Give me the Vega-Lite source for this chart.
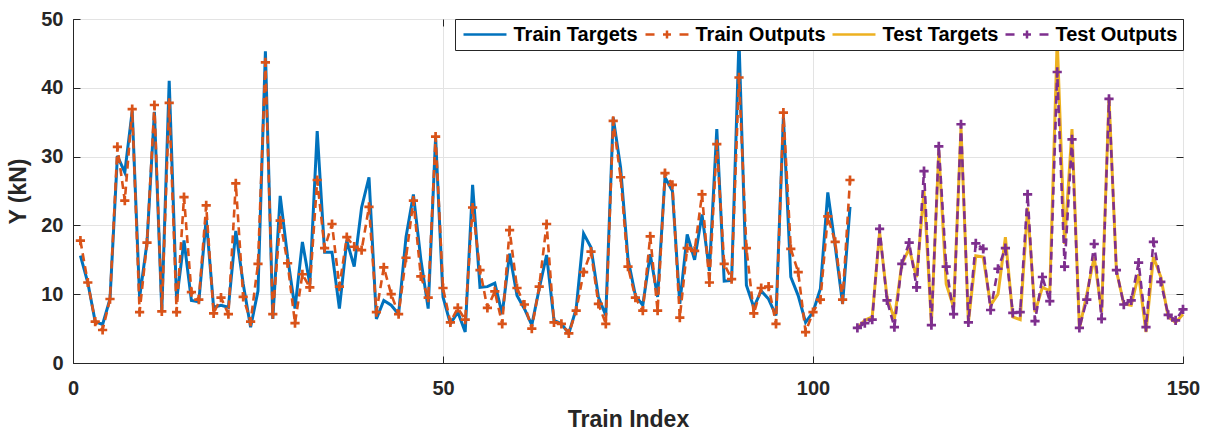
{
  "$schema": "https://vega.github.io/schema/vega-lite/v6.json",
  "width": 1110,
  "height": 344,
  "autosize": {"type": "none"},
  "padding": {"left": 73, "top": 19, "right": 28, "bottom": 67},
  "background": "white",
  "config": {
    "font": "Liberation Sans",
    "view": {"stroke": "#262626", "strokeWidth": 1},
    "axis": {
      "labelFont": "Liberation Sans",
      "labelFontWeight": "bold",
      "labelFontSize": 20,
      "labelColor": "#262626",
      "titleFont": "Liberation Sans",
      "titleFontWeight": "bold",
      "titleFontSize": 23,
      "titleColor": "#262626",
      "domainColor": "#262626",
      "tickColor": "#262626",
      "gridColor": "#e3e3e3",
      "gridWidth": 1
    }
  },
  "data": {
    "values": [
      {"i":1,"Train Targets":15.6,"Train Outputs":17.8},
      {"i":2,"Train Targets":11.7,"Train Outputs":11.7},
      {"i":3,"Train Targets":6.0,"Train Outputs":6.0},
      {"i":4,"Train Targets":5.6,"Train Outputs":4.8},
      {"i":5,"Train Targets":9.3,"Train Outputs":9.3},
      {"i":6,"Train Targets":30.1,"Train Outputs":31.4},
      {"i":7,"Train Targets":27.7,"Train Outputs":23.6},
      {"i":8,"Train Targets":36.6,"Train Outputs":36.9},
      {"i":9,"Train Targets":9.5,"Train Outputs":7.4},
      {"i":10,"Train Targets":17.5,"Train Outputs":17.5},
      {"i":11,"Train Targets":36.5,"Train Outputs":37.5},
      {"i":12,"Train Targets":7.5,"Train Outputs":7.5},
      {"i":13,"Train Targets":41.0,"Train Outputs":37.8},
      {"i":14,"Train Targets":9.1,"Train Outputs":7.4},
      {"i":15,"Train Targets":17.8,"Train Outputs":24.1},
      {"i":16,"Train Targets":9.1,"Train Outputs":10.3},
      {"i":17,"Train Targets":8.9,"Train Outputs":9.2},
      {"i":18,"Train Targets":21.0,"Train Outputs":22.9},
      {"i":19,"Train Targets":8.1,"Train Outputs":7.2},
      {"i":20,"Train Targets":8.4,"Train Outputs":9.5},
      {"i":21,"Train Targets":8.1,"Train Outputs":7.1},
      {"i":22,"Train Targets":19.2,"Train Outputs":26.1},
      {"i":23,"Train Targets":11.5,"Train Outputs":9.6},
      {"i":24,"Train Targets":5.2,"Train Outputs":6.0},
      {"i":25,"Train Targets":10.5,"Train Outputs":14.4},
      {"i":26,"Train Targets":45.3,"Train Outputs":43.7},
      {"i":27,"Train Targets":6.4,"Train Outputs":7.1},
      {"i":28,"Train Targets":24.3,"Train Outputs":20.7},
      {"i":29,"Train Targets":15.4,"Train Outputs":14.5},
      {"i":30,"Train Targets":7.9,"Train Outputs":5.8},
      {"i":31,"Train Targets":17.6,"Train Outputs":12.9},
      {"i":32,"Train Targets":11.5,"Train Outputs":11.0},
      {"i":33,"Train Targets":33.7,"Train Outputs":26.6},
      {"i":34,"Train Targets":16.1,"Train Outputs":16.7},
      {"i":35,"Train Targets":16.1,"Train Outputs":20.2},
      {"i":36,"Train Targets":7.9,"Train Outputs":11.1},
      {"i":37,"Train Targets":17.8,"Train Outputs":18.3},
      {"i":38,"Train Targets":14.0,"Train Outputs":16.9},
      {"i":39,"Train Targets":22.6,"Train Outputs":16.4},
      {"i":40,"Train Targets":27.0,"Train Outputs":22.7},
      {"i":41,"Train Targets":6.4,"Train Outputs":7.4},
      {"i":42,"Train Targets":9.1,"Train Outputs":13.9},
      {"i":43,"Train Targets":8.4,"Train Outputs":10.0},
      {"i":44,"Train Targets":7.1,"Train Outputs":7.1},
      {"i":45,"Train Targets":18.3,"Train Outputs":15.3},
      {"i":46,"Train Targets":24.5,"Train Outputs":23.6},
      {"i":47,"Train Targets":15.1,"Train Outputs":12.6},
      {"i":48,"Train Targets":7.9,"Train Outputs":9.5},
      {"i":49,"Train Targets":32.8,"Train Outputs":32.9},
      {"i":50,"Train Targets":9.6,"Train Outputs":10.9},
      {"i":51,"Train Targets":5.7,"Train Outputs":5.9},
      {"i":52,"Train Targets":7.4,"Train Outputs":8.0},
      {"i":53,"Train Targets":4.5,"Train Outputs":6.3},
      {"i":54,"Train Targets":25.9,"Train Outputs":22.6},
      {"i":55,"Train Targets":11.0,"Train Outputs":13.5},
      {"i":56,"Train Targets":11.1,"Train Outputs":8.0},
      {"i":57,"Train Targets":11.6,"Train Outputs":10.4},
      {"i":58,"Train Targets":7.1,"Train Outputs":5.7},
      {"i":59,"Train Targets":15.9,"Train Outputs":19.3},
      {"i":60,"Train Targets":9.8,"Train Outputs":10.9},
      {"i":61,"Train Targets":7.9,"Train Outputs":8.5},
      {"i":62,"Train Targets":5.5,"Train Outputs":5.0},
      {"i":63,"Train Targets":10.8,"Train Outputs":11.1},
      {"i":64,"Train Targets":15.7,"Train Outputs":20.2},
      {"i":65,"Train Targets":6.2,"Train Outputs":5.9},
      {"i":66,"Train Targets":5.7,"Train Outputs":5.7},
      {"i":67,"Train Targets":4.3,"Train Outputs":4.3},
      {"i":68,"Train Targets":7.9,"Train Outputs":7.6},
      {"i":69,"Train Targets":18.8,"Train Outputs":13.2},
      {"i":70,"Train Targets":16.8,"Train Outputs":16.2},
      {"i":71,"Train Targets":9.6,"Train Outputs":8.6},
      {"i":72,"Train Targets":6.9,"Train Outputs":5.7},
      {"i":73,"Train Targets":35.7,"Train Outputs":35.2},
      {"i":74,"Train Targets":28.4,"Train Outputs":27.0},
      {"i":75,"Train Targets":15.1,"Train Outputs":14.0},
      {"i":76,"Train Targets":9.8,"Train Outputs":9.5},
      {"i":77,"Train Targets":8.4,"Train Outputs":7.6},
      {"i":78,"Train Targets":15.8,"Train Outputs":18.4},
      {"i":79,"Train Targets":9.6,"Train Outputs":7.6},
      {"i":80,"Train Targets":27.0,"Train Outputs":27.6},
      {"i":81,"Train Targets":25.0,"Train Outputs":25.9},
      {"i":82,"Train Targets":8.6,"Train Outputs":6.6},
      {"i":83,"Train Targets":18.7,"Train Outputs":16.7},
      {"i":84,"Train Targets":15.0,"Train Outputs":16.3},
      {"i":85,"Train Targets":21.6,"Train Outputs":24.5},
      {"i":86,"Train Targets":13.4,"Train Outputs":11.7},
      {"i":87,"Train Targets":34.0,"Train Outputs":31.8},
      {"i":88,"Train Targets":11.9,"Train Outputs":14.4},
      {"i":89,"Train Targets":12.0,"Train Outputs":12.2},
      {"i":90,"Train Targets":47.0,"Train Outputs":41.5},
      {"i":91,"Train Targets":11.3,"Train Outputs":16.7},
      {"i":92,"Train Targets":8.1,"Train Outputs":7.2},
      {"i":93,"Train Targets":10.5,"Train Outputs":10.9},
      {"i":94,"Train Targets":9.3,"Train Outputs":11.1},
      {"i":95,"Train Targets":6.9,"Train Outputs":5.7},
      {"i":96,"Train Targets":35.7,"Train Outputs":36.4},
      {"i":97,"Train Targets":12.5,"Train Outputs":16.6},
      {"i":98,"Train Targets":9.8,"Train Outputs":13.2},
      {"i":99,"Train Targets":5.9,"Train Outputs":4.5},
      {"i":100,"Train Targets":7.4,"Train Outputs":7.4},
      {"i":101,"Train Targets":10.8,"Train Outputs":9.2},
      {"i":102,"Train Targets":24.8,"Train Outputs":21.3},
      {"i":103,"Train Targets":17.0,"Train Outputs":17.6},
      {"i":104,"Train Targets":8.6,"Train Outputs":9.2},
      {"i":105,"Train Targets":22.7,"Train Outputs":26.6},
      {"i":106,"Test Targets":5.1,"Test Outputs":5.1},
      {"i":107,"Test Targets":6.2,"Test Outputs":5.8},
      {"i":108,"Test Targets":6.7,"Test Outputs":6.3},
      {"i":109,"Test Targets":19.0,"Test Outputs":19.5},
      {"i":110,"Test Targets":9.6,"Test Outputs":9.1},
      {"i":111,"Test Targets":6.4,"Test Outputs":5.2},
      {"i":112,"Test Targets":14.4,"Test Outputs":14.4},
      {"i":113,"Test Targets":16.6,"Test Outputs":17.5},
      {"i":114,"Test Targets":12.5,"Test Outputs":11.0},
      {"i":115,"Test Targets":25.0,"Test Outputs":27.9},
      {"i":116,"Test Targets":5.7,"Test Outputs":5.5},
      {"i":117,"Test Targets":30.8,"Test Outputs":31.5},
      {"i":118,"Test Targets":11.5,"Test Outputs":14.0},
      {"i":119,"Test Targets":8.1,"Test Outputs":7.1},
      {"i":120,"Test Targets":34.2,"Test Outputs":34.7},
      {"i":121,"Test Targets":5.9,"Test Outputs":5.9},
      {"i":122,"Test Targets":15.6,"Test Outputs":17.4},
      {"i":123,"Test Targets":15.4,"Test Outputs":16.6},
      {"i":124,"Test Targets":8.4,"Test Outputs":7.7},
      {"i":125,"Test Targets":10.0,"Test Outputs":13.7},
      {"i":126,"Test Targets":18.3,"Test Outputs":16.7},
      {"i":127,"Test Targets":6.7,"Test Outputs":7.3},
      {"i":128,"Test Targets":6.3,"Test Outputs":7.4},
      {"i":129,"Test Targets":22.6,"Test Outputs":24.5},
      {"i":130,"Test Targets":7.4,"Test Outputs":6.1},
      {"i":131,"Test Targets":11.0,"Test Outputs":12.5},
      {"i":132,"Test Targets":10.5,"Test Outputs":9.0},
      {"i":133,"Test Targets":47.0,"Test Outputs":42.3},
      {"i":134,"Test Targets":17.3,"Test Outputs":14.0},
      {"i":135,"Test Targets":34.0,"Test Outputs":32.5},
      {"i":136,"Test Targets":5.0,"Test Outputs":5.1},
      {"i":137,"Test Targets":10.0,"Test Outputs":9.2},
      {"i":138,"Test Targets":15.4,"Test Outputs":17.3},
      {"i":139,"Test Targets":7.4,"Test Outputs":6.4},
      {"i":140,"Test Targets":38.6,"Test Outputs":38.4},
      {"i":141,"Test Targets":13.4,"Test Outputs":13.5},
      {"i":142,"Test Targets":8.6,"Test Outputs":8.5},
      {"i":143,"Test Targets":8.4,"Test Outputs":9.1},
      {"i":144,"Test Targets":12.9,"Test Outputs":14.6},
      {"i":145,"Test Targets":4.5,"Test Outputs":5.2},
      {"i":146,"Test Targets":15.4,"Test Outputs":17.6},
      {"i":147,"Test Targets":12.5,"Test Outputs":11.8},
      {"i":148,"Test Targets":6.7,"Test Outputs":7.0},
      {"i":149,"Test Targets":5.9,"Test Outputs":6.2},
      {"i":150,"Test Targets":7.1,"Test Outputs":7.8}
    ]
  },
  "transform": [
    {"fold": ["Train Targets", "Train Outputs", "Test Targets", "Test Outputs"], "as": ["series", "y"]},
    {"filter": "isValid(datum.y)"}
  ],
  "resolve": {"axis": {"x": "independent", "y": "independent"}},
  "layer": [
    {
      "transform": [{"filter": "indexof(datum.series, 'Targets') >= 0"}],
      "mark": {"type": "line", "strokeWidth": 3},
      "encoding": {
        "x": {"field": "i", "type": "quantitative",
          "scale": {"domain": [0, 150], "nice": false, "zero": false},
          "axis": {"title": "Train Index", "values": [0, 50, 100, 150], "grid": true, "tickSize": -7, "labelPadding": 22, "titlePadding": 10, "labelFlush": false}},
        "y": {"field": "y", "type": "quantitative",
          "scale": {"domain": [0, 50], "nice": false},
          "axis": {"title": "Y (kN)", "values": [0, 10, 20, 30, 40, 50], "grid": true, "tickSize": -7, "labelPadding": 17, "titlePadding": 10, "labelFlush": false}},
        "color": {"field": "series", "type": "nominal",
          "scale": {"domain": ["Train Targets", "Train Outputs", "Test Targets", "Test Outputs"], "range": ["#0072BD", "#D95319", "#EDB120", "#7E2F8E"]},
          "legend": {
            "title": null, "orient": "top-right", "direction": "horizontal", "offset": 0,
            "fillColor": "white", "strokeColor": "#262626", "padding": 5.5,
            "labelFont": "Liberation Sans", "labelFontWeight": "bold", "labelFontSize": 20, "labelColor": "black",
            "symbolSize": 196, "symbolStrokeWidth": 2.5, "labelOffset": 33, "columnPadding": 2,
            "encode": {"symbols": {"update": {
              "shape": {"signal": "indexof(datum.value, 'Outputs') >= 0 ? 'M-1,0H0.29M1.5,0H2.64M2.07,-0.57V0.57M3.86,0H5.14' : 'M-1,0H5.14'"},
              "fill": {"value": "transparent"},
              "stroke": {"scale": "color", "field": "value"},
              "strokeWidth": {"value": 2.5},
              "opacity": {"value": 1}
            }}}
          }}
      }
    },
    {
      "transform": [{"filter": "indexof(datum.series, 'Outputs') >= 0"}],
      "mark": {"type": "line", "strokeWidth": 2.6, "strokeDash": [8, 5]},
      "encoding": {
        "x": {"field": "i", "type": "quantitative", "axis": {"orient": "top", "labels": false, "title": null, "grid": false, "domain": false, "tickSize": -7, "values": [0, 50, 100, 150]}},
        "y": {"field": "y", "type": "quantitative", "axis": {"orient": "right", "labels": false, "title": null, "grid": false, "domain": false, "tickSize": -7, "values": [0, 10, 20, 30, 40, 50]}},
        "color": {"field": "series", "type": "nominal"}
      }
    },
    {
      "transform": [{"filter": "indexof(datum.series, 'Outputs') >= 0"}],
      "mark": {"type": "point", "shape": "M-1,0H1M0,-1V1", "filled": false, "strokeWidth": 2.7, "size": 85, "opacity": 1},
      "encoding": {
        "x": {"field": "i", "type": "quantitative", "axis": null},
        "y": {"field": "y", "type": "quantitative", "axis": null},
        "color": {"field": "series", "type": "nominal"}
      }
    }
  ]
}
